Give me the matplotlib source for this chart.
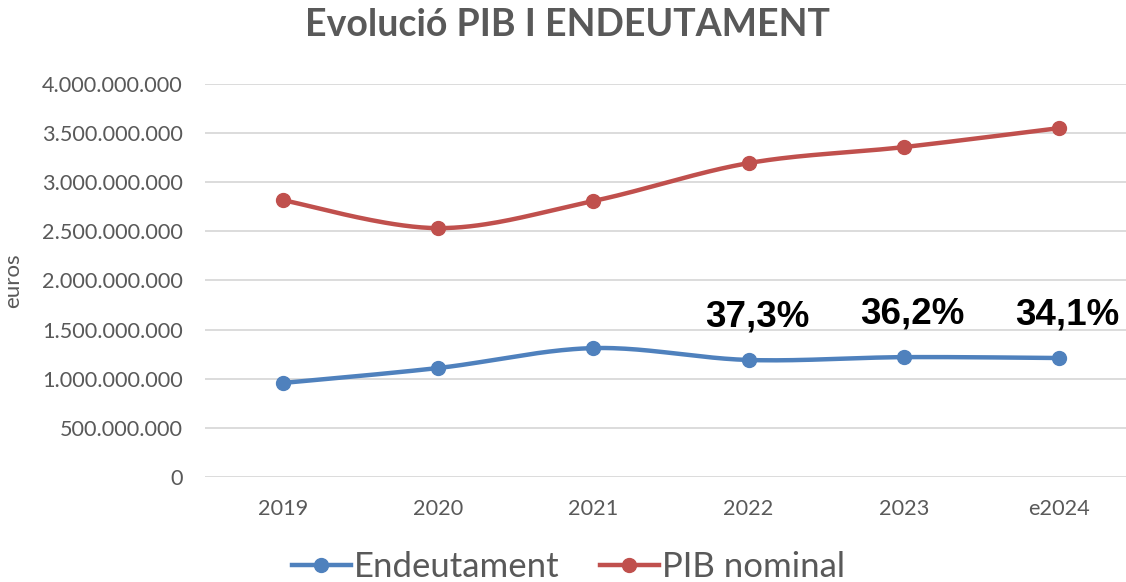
import numpy as np
import matplotlib
matplotlib.use("Agg")
import matplotlib.pyplot as plt
import matplotlib.ticker as ticker

# dades
anys = ['2019', '2020', '2021', '2022', '2023', 'e2024']
endeutament = [957e6, 1109e6, 1312e6, 1191e6, 1220e6, 1211e6]
pib_nominal = [2818e6, 2533e6, 2809e6, 3195e6, 3358e6, 3551e6]
ratio_labels = ['', '', '', '37,3%', '36,2%', '34,1%']

blau = '#4F81BD'
vermell = '#C0504D'
gris = '#595959'

plt.rcParams['font.family'] = ['Lato', 'DejaVu Sans']


def smooth(xs, ys, n=40):
    # corba suau tipus Excel (Bezier amb Catmull-Rom)
    xs = np.asarray(xs, float)
    ys = np.asarray(ys, float)
    px, py = [], []
    m = len(xs)
    for i in range(m - 1):
        i0 = max(i - 1, 0)
        i3 = min(i + 2, m - 1)
        c1x = xs[i] + (xs[i + 1] - xs[i0]) / 6
        c1y = ys[i] + (ys[i + 1] - ys[i0]) / 6
        c2x = xs[i + 1] - (xs[i3] - xs[i]) / 6
        c2y = ys[i + 1] - (ys[i3] - ys[i]) / 6
        t = np.linspace(0, 1, n)
        a, b, c, d = (1 - t) ** 3, 3 * (1 - t) ** 2 * t, 3 * (1 - t) * t ** 2, t ** 3
        px.extend(a * xs[i] + b * c1x + c * c2x + d * xs[i + 1])
        py.extend(a * ys[i] + b * c1y + c * c2y + d * ys[i + 1])
    return px, py


fig = plt.figure(figsize=(11.26, 5.82), dpi=100)
ax = fig.add_axes([205 / 1126, 1 - 477 / 582, 1 - 205 / 1126, (477 - 84) / 582])

x = np.arange(len(anys))
for vals, col, nom in [(endeutament, blau, 'Endeutament'), (pib_nominal, vermell, 'PIB nominal')]:
    sx, sy = smooth(x, vals)
    ax.plot(sx, sy, color=col, lw=3.2, solid_capstyle='round', zorder=3)
    ax.plot(x, vals, 'o', color=col, ms=10, zorder=4)
    ax.plot([], [], color=col, lw=3.2, marker='o', ms=10, label=nom)

for i, lab in enumerate(ratio_labels):
    if lab:
        ax.annotate(lab, (x[i], endeutament[i]), xytext=(6, 31), textcoords='offset points',
                    ha='center', va='center', fontsize=26.5, fontweight='bold',
                    family=['Liberation Sans', 'DejaVu Sans'], color='black')

ax.set_xlim(-0.5, 5.43)
ax.set_ylim(0, 4.0e9)
ax.yaxis.set_major_locator(ticker.MultipleLocator(5e8))
ax.yaxis.set_major_formatter(ticker.FuncFormatter(lambda v, p: f"{int(round(v)):,}".replace(",", ".")))
ax.set_xticks(x)
ax.set_xticklabels(anys)
ax.tick_params(axis='both', length=0, colors=gris, labelsize=15.6)
ax.tick_params(axis='y', pad=16)
ax.tick_params(axis='x', pad=16)
ax.grid(axis='y', color='#D9D9D9', lw=1.3)
ax.set_axisbelow(True)
for s in ax.spines.values():
    s.set_visible(False)

ax.set_ylabel('euros', fontsize=16, color=gris)
ax.yaxis.set_label_coords(-0.197, 0.5)

fig.text(0.504, 0.957, 'Evolució PIB I ENDEUTAMENT', ha='center', va='center',
         fontsize=27, fontweight='bold', color=gris)

fig.legend(loc='center', bbox_to_anchor=(0.505, 0.025), ncol=2, frameon=False,
           fontsize=25, labelcolor=gris, handlelength=1.7, handletextpad=0.1, columnspacing=1.15)

fig.savefig('out.png', dpi=100)
